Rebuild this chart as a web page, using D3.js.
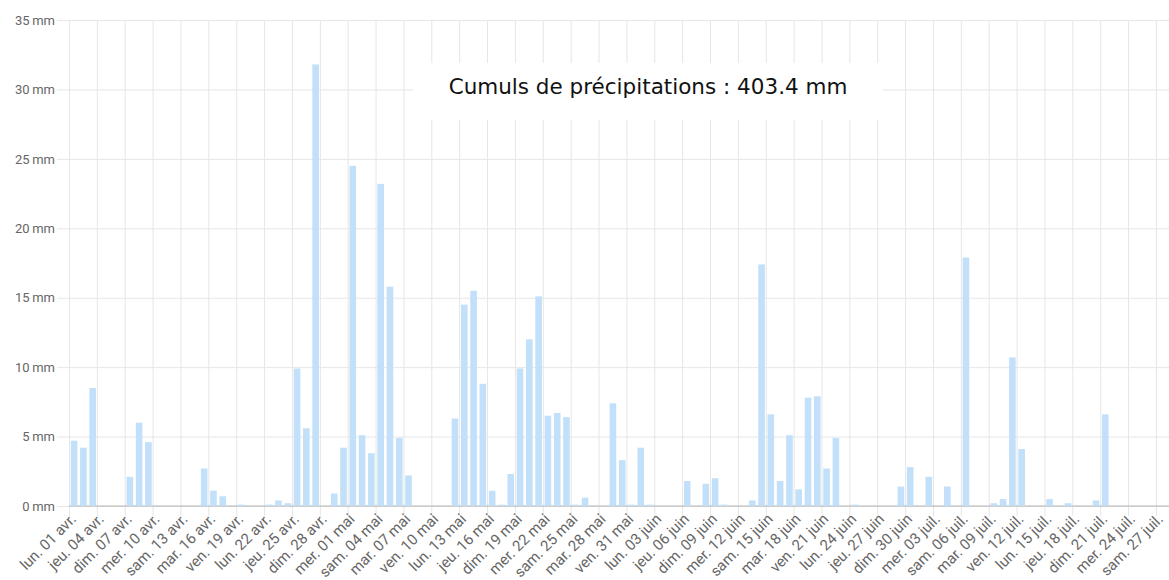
<!DOCTYPE html>
<html>
<head>
<meta charset="utf-8">
<script src="https://cdn.jsdelivr.net/npm/d3@7"></script>
<style>
  body { margin: 0; background: #fff; }
  svg { display: block; }
</style>
</head>
<body>
<div id="chart"></div>
<script>
// daily rainfall (mm), one value per day starting on startDate
const startDate = '2024-04-01';
const rain = [
  // avril
  4.7, 4.2, 8.5, 0, 0, 0, 2.1, 6.0, 4.6, 0,
  0, 0, 0, 0, 2.7, 1.1, 0.7, 0, 0.1, 0,
  0, 0.1, 0.4, 0.2, 9.9, 5.6, 31.8, 0, 0.9, 4.2,
  // mai
  24.5, 5.1, 3.8, 23.2, 15.8, 4.9, 2.2, 0, 0, 0,
  0, 6.3, 14.5, 15.5, 8.8, 1.1, 0.1, 2.3, 9.9, 12.0,
  15.1, 6.5, 6.7, 6.4, 0.1, 0.6, 0, 0, 7.4, 3.3, 0.1,
  // juin
  4.2, 0.1, 0, 0, 0, 1.8, 0, 1.6, 2.0, 0.1,
  0, 0, 0.4, 17.4, 6.6, 1.8, 5.1, 1.2, 7.8, 7.9,
  2.7, 4.9, 0, 0.1, 0, 0, 0, 0, 1.4, 2.8,
  // juillet
  0, 2.1, 0, 1.4, 0, 17.9, 0, 0, 0.2, 0.5,
  10.7, 4.1, 0, 0, 0.5, 0, 0.2, 0, 0, 0.4,
  6.6, 0, 0, 0, 0, 0, 0
];
const totalLabel = 'Cumuls de précipitations : 403.4 mm';
const yTicks = [0, 5, 10, 15, 20, 25, 30, 35];
const dayNames = ['dimanche', 'lundi', 'mardi', 'mercredi', 'jeudi', 'vendredi', 'samedi'];
const shortDays = ['dim.', 'lun.', 'mar.', 'mer.', 'jeu.', 'ven.', 'sam.'];
const monthNames = ['janvier', 'février', 'mars', 'avril', 'mai', 'juin', 'juillet', 'août', 'septembre', 'octobre', 'novembre', 'décembre'];
const shortMonths = ['janv.', 'févr.', 'mars', 'avr.', 'mai', 'juin', 'juil.', 'août', 'sept.', 'oct.', 'nov.', 'déc.'];

const width = 1169;
const height = 580;
const margin = { top: 20, left: 69, bottom: 74 };
const dayPx = 9.29;

const fr = d3.timeFormatLocale({
  dateTime: '%A %e %B %Y à %X', date: '%d/%m/%Y', time: '%H:%M:%S',
  periods: ['AM', 'PM'],
  days: dayNames, shortDays: shortDays,
  months: monthNames, shortMonths: shortMonths
});
const fmt = fr.utcFormat('%a %d %b');

const t0 = new Date(startDate + 'T00:00:00Z');
const data = rain.map((v, i) => ({ date: d3.utcDay.offset(t0, i), value: v }));
const tEnd = d3.utcDay.offset(t0, 119);

const x = d3.scaleUtc()
  .domain([t0, tEnd])
  .range([margin.left, margin.left + 119 * dayPx]);

const y = d3.scaleLinear()
  .domain([0, 35])
  .range([height - margin.bottom, margin.top]);

const svg = d3.select('#chart')
  .append('svg')
  .attr('width', width)
  .attr('height', height);

const tickDates = d3.utcDay.range(t0, d3.utcDay.offset(t0, 118), 3);

// horizontal grid + y labels
const yAxis = d3.axisLeft(y)
  .tickValues(yTicks)
  .tickSize(-(width - 57))
  .tickPadding(2)
  .tickFormat(d => d + '\u2009mm');

svg.append('g')
  .attr('class', 'y-axis')
  .attr('transform', 'translate(57,0)')
  .call(yAxis)
  .call(g => g.select('.domain').remove())
  .call(g => g.selectAll('line').attr('stroke', '#e6e6e6'))
  .call(g => g.selectAll('text')
    .attr('fill', '#666')
    .style('font-family', 'Roboto, sans-serif')
    .style('font-size', '13px'));

// vertical grid + x labels
const xAxis = d3.axisBottom(x)
  .tickValues(tickDates)
  .tickSize(-(height - margin.bottom - margin.top) - 10)
  .tickFormat(fmt);

svg.append('g')
  .attr('class', 'x-axis')
  .attr('transform', `translate(0,${height - margin.bottom + 10})`)
  .call(xAxis)
  .call(g => g.select('.domain').remove())
  .call(g => g.selectAll('line').attr('stroke', '#e6e6e6'))
  .call(g => g.selectAll('text')
    .attr('fill', '#666')
    .attr('text-anchor', 'end')
    .attr('y', 0)
    .attr('dy', 0)
    .attr('transform', 'translate(7.5,4) rotate(-45)')
    .style('font-family', 'Roboto, sans-serif')
    .style('font-size', '15px'));

// baseline
svg.append('line')
  .attr('x1', margin.left).attr('x2', width)
  .attr('y1', y(0)).attr('y2', y(0))
  .attr('stroke', '#b3b3b3');

// bars
svg.selectAll('.bar')
  .data(data.filter(d => d.value > 0))
  .enter()
  .append('rect')
  .attr('class', 'bar')
  .attr('x', d => x(d.date) + 1.8)
  .attr('y', d => y(d.value))
  .attr('width', 6.6)
  .attr('height', d => y(0) - y(d.value))
  .attr('fill', '#c2e0f9');

// total label box
const box = svg.append('g').attr('transform', 'translate(648,91)');
box.append('rect')
  .attr('x', -235).attr('y', -28)
  .attr('width', 470).attr('height', 57)
  .attr('fill', '#fff');
box.append('text')
  .attr('text-anchor', 'middle')
  .attr('y', 3)
  .attr('fill', '#111')
  .style('font-family', 'DejaVu Sans, Verdana, sans-serif')
  .style('font-size', '21.5px')
  .text(totalLabel);
</script>
</body>
</html>
